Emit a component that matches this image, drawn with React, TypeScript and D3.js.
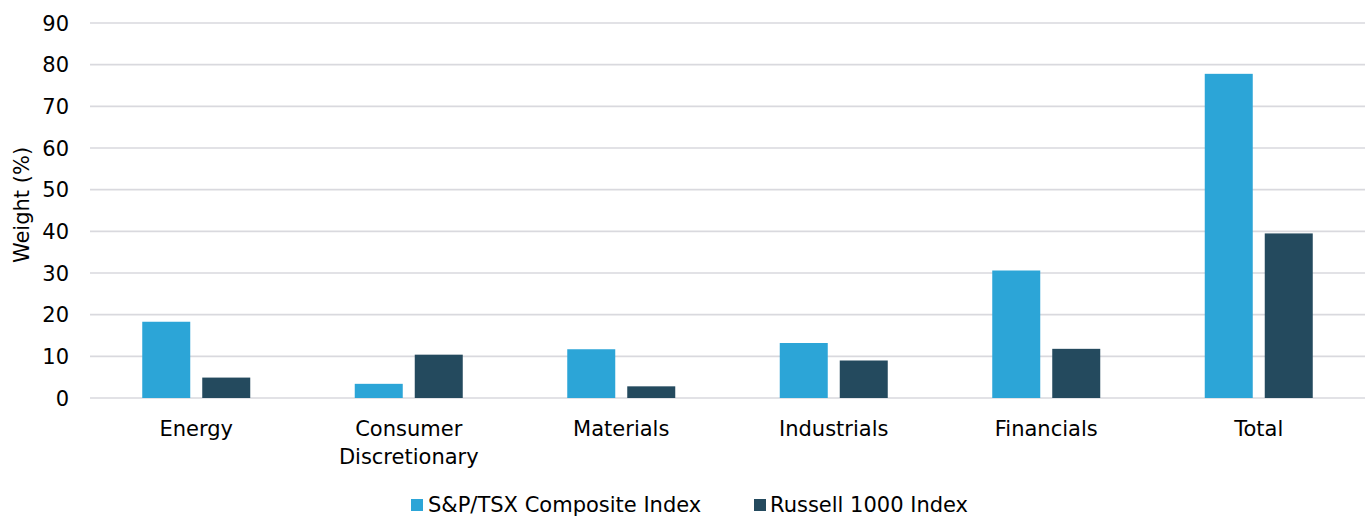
import React from "react";
import * as d3 from "d3";

const categories = ["Energy", "Consumer\nDiscretionary", "Materials", "Industrials", "Financials", "Total"];
const seriesNames = ["S&P/TSX Composite Index", "Russell 1000 Index"];
const tsxValues = [18.3, 3.4, 11.7, 13.2, 30.6, 77.8];
const russellValues = [4.9, 10.4, 2.8, 9.0, 11.8, 39.5];
const yTicks = [0, 10, 20, 30, 40, 50, 60, 70, 80, 90];
const colors = ["#2CA5D7", "#244A5E"];

const W = 1369;
const H = 518;
const FONT = "'DejaVu Sans', sans-serif";
const FS = 21;

export default function App() {
  const left = 90;
  const right = 1365;
  const top = 23;
  const bottom = 398;
  const x = d3.scaleBand<string>().domain(categories).range([left, right]).paddingInner(0).paddingOuter(0);
  const y = d3.scaleLinear().domain([0, 90]).range([bottom, top]);
  const barW = 48;
  const gap = 12;
  const series = [tsxValues, russellValues];

  return (
    <svg width={W} height={H} style={{ position: "absolute", left: 0, top: 0, background: "#fff" }}>
      {yTicks.map((t) => (
        <g key={t}>
          <line x1={left} x2={right} y1={y(t)} y2={y(t)} stroke="#D9D9DE" strokeWidth={1.6} />
          <text x={69} y={y(t)} dy="0.36em" textAnchor="end" fontFamily={FONT} fontSize={FS} fill="#000">
            {t}
          </text>
        </g>
      ))}
      <text
        transform={`translate(29,205) rotate(-90)`}
        textAnchor="middle"
        fontFamily={FONT}
        fontSize={FS}
        fill="#000"
      >
        Weight (%)
      </text>
      {categories.map((c, i) => {
        const cx = (x(c) as number) + x.bandwidth() / 2;
        return (
          <g key={c}>
            {series.map((vals, s) => {
              const bx = s === 0 ? cx - gap / 2 - barW : cx + gap / 2;
              return (
                <rect
                  key={s}
                  x={bx}
                  y={y(vals[i])}
                  width={barW}
                  height={y(0) - y(vals[i])}
                  fill={colors[s]}
                />
              );
            })}
            {c.split("\n").map((line, li) => (
              <text
                key={li}
                x={cx}
                y={436 + li * 28}
                textAnchor="middle"
                fontFamily={FONT}
                fontSize={FS}
                fill="#000"
              >
                {line}
              </text>
            ))}
          </g>
        );
      })}
      <g>
        <rect x={411} y={499} width={12} height={12} fill={colors[0]} />
        <text x={428} y={512} fontFamily={FONT} fontSize={FS} fill="#000">
          {seriesNames[0]}
        </text>
        <rect x={754} y={499} width={12} height={12} fill={colors[1]} />
        <text x={770} y={512} fontFamily={FONT} fontSize={FS} fill="#000">
          {seriesNames[1]}
        </text>
      </g>
    </svg>
  );
}
